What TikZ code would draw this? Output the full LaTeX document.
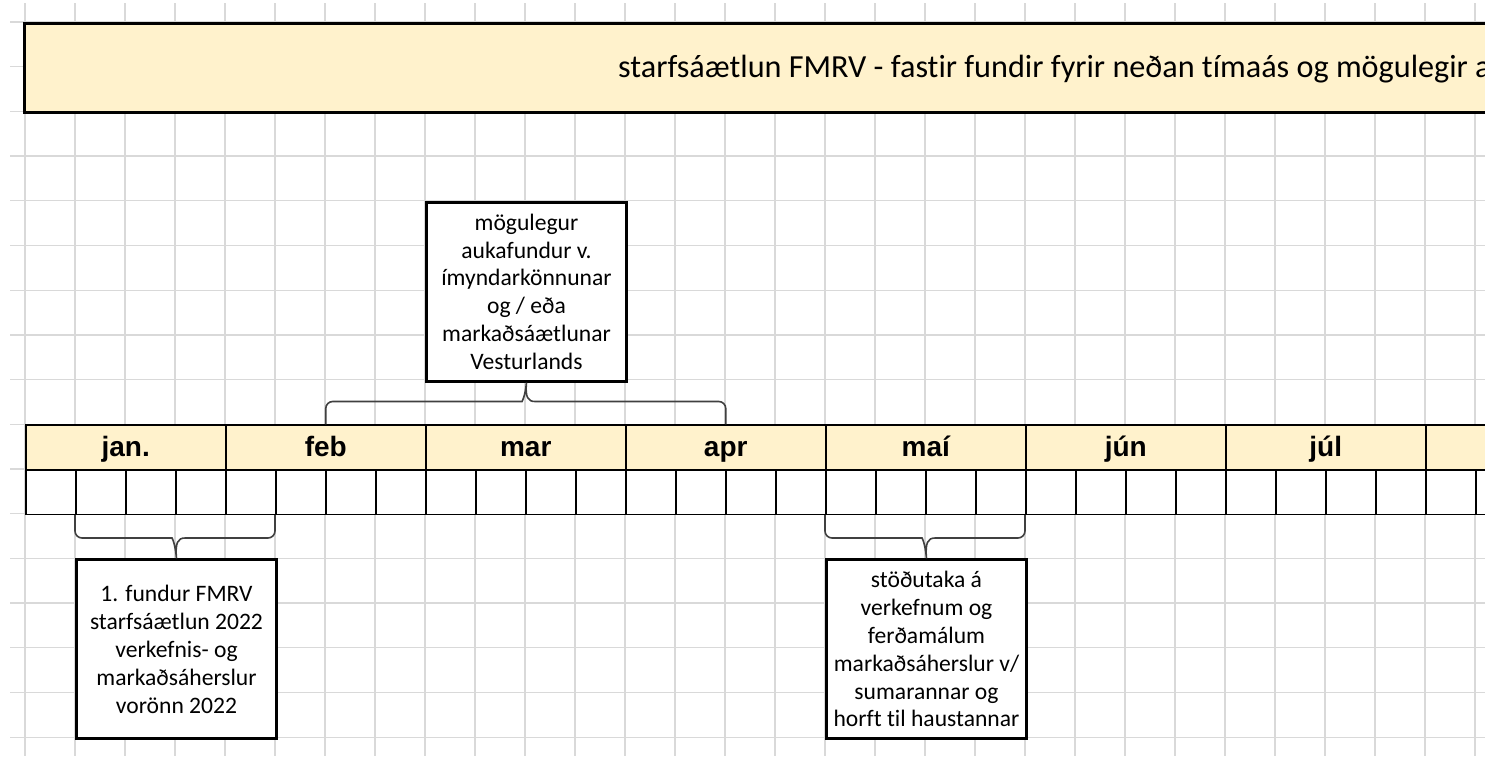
\documentclass[tikz,border=0pt]{standalone}
\usepackage{fontspec}
\setmainfont{Carlito}[Ligatures={NoCommon}]
\newfontfamily\arialfont{Liberation Sans}
\definecolor{cellyellow}{HTML}{FFF2CC}
\definecolor{gridgray}{HTML}{D9D9D9}
\definecolor{bracegray}{HTML}{404040}
\begin{document}
\begin{tikzpicture}[x=1pt,y=-1pt,
  gridline/.style={draw=gridgray, line width=1.3pt},
  titlebox/.style={draw=black, line width=3pt, fill=cellyellow, minimum width=1700pt, minimum height=89.4pt, inner sep=0pt, anchor=north west},
  titletextstyle/.style={anchor=base west, inner sep=0pt, font=\fontsize{32.2}{38}\selectfont},
  monthcell/.style={draw=black, line width=1.5pt, fill=cellyellow, minimum width=200pt, minimum height=44.7pt, inner sep=0pt, text height=22pt, text depth=3.3pt, anchor=north west, font=\arialfont\bfseries\fontsize{28}{32}\selectfont},
  weekcell/.style={draw=black, line width=1.5pt, fill=white, minimum width=50pt, minimum height=44.7pt, inner sep=0pt, anchor=north west},
  notebox/.style={draw=black, line width=3pt, fill=white, minimum width=200pt, minimum height=178.8pt, inner sep=0pt, anchor=north west, align=center, font=\fontsize{23.6}{27.8}\selectfont},
  bracelink/.style={draw=bracegray, line width=1.6pt}]
\useasboundingbox (0,0) rectangle (1485,756);
\begin{scope}
\clip (0,0) rectangle (1485,756);
\fill[white] (0,0) rectangle (1485,756);
% grid
\foreach \i in {0,...,29} \draw[gridline] (25+50*\i,3) -- (25+50*\i,756);
\foreach \k in {0,...,16} \draw[gridline] (10,22+44.7*\k) -- (1485,22+44.7*\k);
% title
\node[titlebox] (title) at (23,22) {};
\node[titletextstyle] (titletext) at (618,77.5) {starfsáætlun FMRV - fastir fundir fyrir neðan tímaás og mögulegir a};
% weeks
\foreach \i in {0,...,29} \node[weekcell] (w\i) at (25+50*\i,469) {};
% months
\node[monthcell] (jan) at (25,424.3) {jan.};
\node[monthcell] (feb) at (225,424.3) {feb};
\node[monthcell] (mar) at (425,424.3) {mar};
\node[monthcell] (apr) at (625,424.3) {apr};
\node[monthcell] (mai) at (825,424.3) {maí};
\node[monthcell] (jun) at (1025,424.3) {jún};
\node[monthcell] (jul) at (1225,424.3) {júl};
\node[monthcell] (aug) at (1425,424.3) {};
% boxes
\node[notebox] (upper) at (425,200.8) {mögulegur\\aukafundur v.\\ímyndarkönnunar\\og / eða\\markaðsáætlunar\\Vesturlands};
\node[notebox] (first) at (75,558.4) {1. fundur FMRV\\starfsáætlun 2022\\verkefnis- og\\markaðsáherslur\\vorönn 2022};
\node[notebox] (spring) at (825,558.4) {stöðutaka á\\verkefnum og\\ferðamálum\\markaðsáherslur v/\\sumarannar og\\horft til haustannar};
% braces
\draw[bracelink] (feb.north) [rounded corners=7pt] |- (515,401.5) [sharp corners] .. controls (522,401.5) and (525,397) .. (upper.south) .. controls (525,397) and (528,401.5) .. (535,401.5) [rounded corners=7pt] -| (apr.north);
\draw[bracelink] (w1.south west) [rounded corners=7pt] |- (165,538) [sharp corners] .. controls (172,538) and (175,542.5) .. (first.north) .. controls (175,542.5) and (178,538) .. (185,538) [rounded corners=7pt] -| (w5.south west);
\draw[bracelink] (w16.south west) [rounded corners=7pt] |- (915,538) [sharp corners] .. controls (922,538) and (925,542.5) .. (spring.north) .. controls (925,542.5) and (928,538) .. (935,538) [rounded corners=7pt] -| (w20.south west);
\end{scope}
\end{tikzpicture}
\end{document}
